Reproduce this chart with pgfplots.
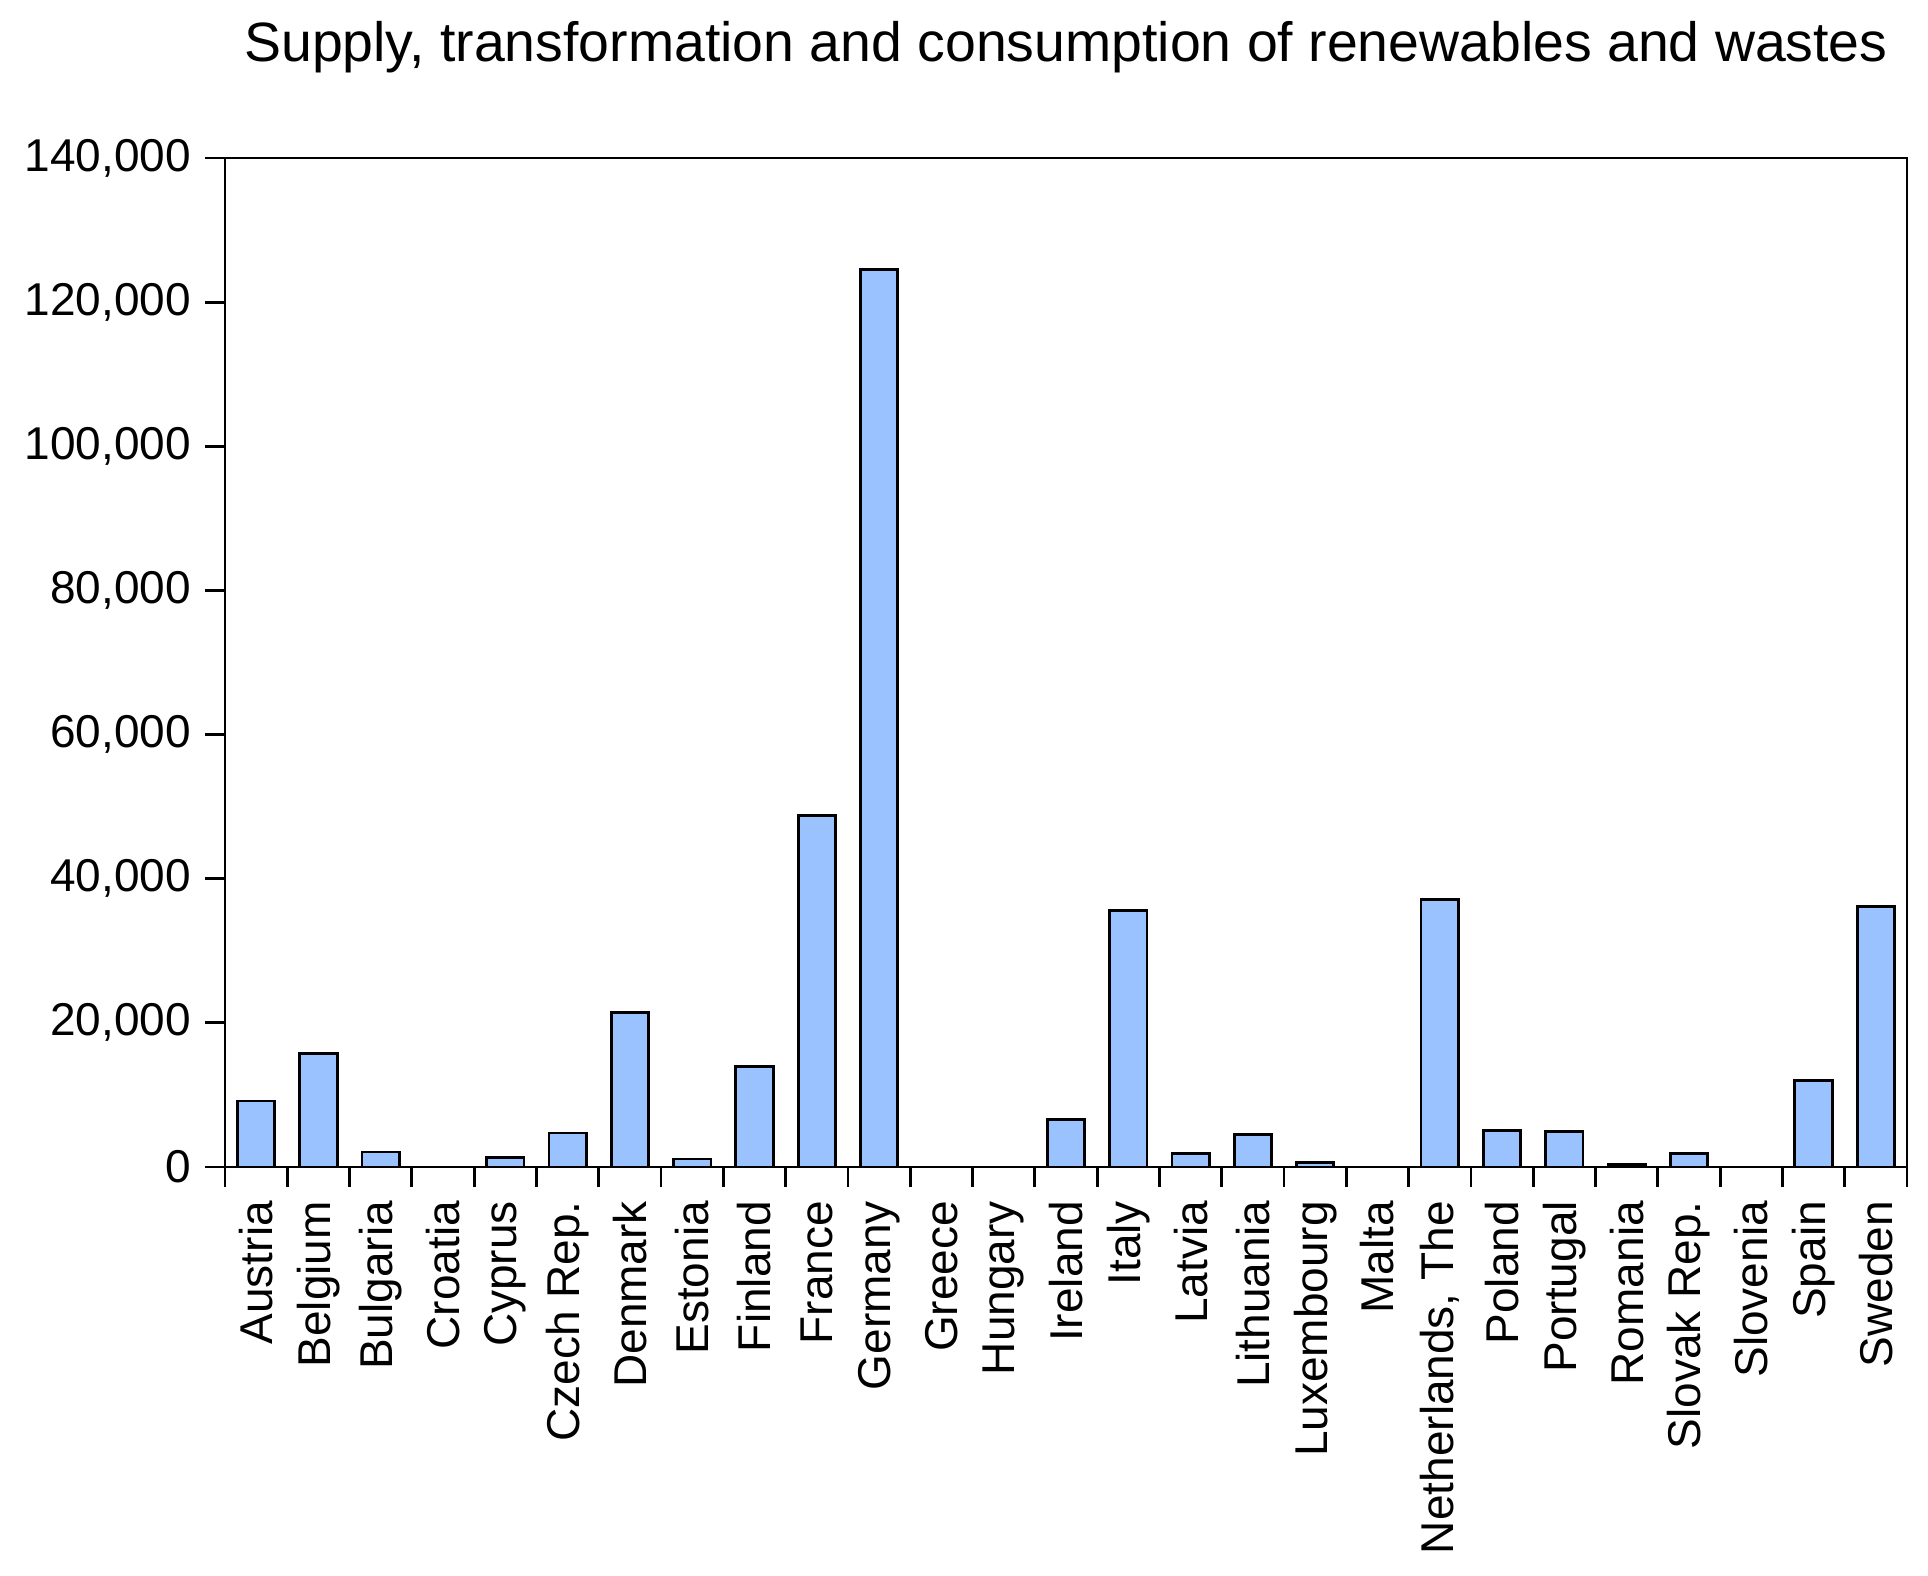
\documentclass[border=0pt]{standalone}
\usepackage{pgfplots}
\pgfplotsset{compat=1.18}
\usepackage{fontspec}
\setmainfont{Liberation Sans}
\definecolor{barblue}{RGB}{153,194,255}
\begin{document}
\begin{tikzpicture}
\begin{axis}[
  scale only axis,
  width=420.5pt, height=252.25pt,
  xmin=0.5, xmax=27.5,
  ymin=0, ymax=140000,
  ytick={0,20000,40000,60000,80000,100000,120000,140000},
  scaled y ticks=false,
  yticklabel={\pgfmathprintnumber[fixed,precision=0,1000 sep={,},assume math mode=true]{\tick}},
  yticklabel style={font=\fontsize{11.5}{13}\selectfont},
  yticklabel shift=0pt,
  tick align=outside,
  major tick length=5pt,
  ytick pos=left,
  xtick pos=bottom,
  x tick label as interval,
  xtick={0.5,1.5,...,27.5},
  xticklabels={Austria,Belgium,Bulgaria,Croatia,Cyprus,Czech Rep.,Denmark,Estonia,Finland,France,Germany,Greece,Hungary,Ireland,Italy,Latvia,Lithuania,Luxembourg,Malta,{Netherlands, The},Poland,Portugal,Romania,Slovak Rep.,Slovenia,Spain,Sweden},
  xticklabel style={rotate=90, anchor=east, font=\fontsize{11.5}{13}\selectfont},
  axis line style={line width=0.7pt},
  every tick/.style={black, line width=0.7pt},
  clip=false,
]
\addplot[ybar, bar width=0.6, fill=barblue, draw=black, line width=0.7pt] coordinates {
(1,9160) (2,15740) (3,2080) (4,0) (5,1300) (6,4720) (7,21460) (8,1110) (9,13970) (10,48810)
(11,124490) (12,0) (13,0) (14,6620) (15,35620) (16,1850) (17,4480) (18,640) (19,0) (20,37110)
(21,5080) (22,4940) (23,320) (24,1850) (25,0) (26,11980) (27,36180)
};
\node[anchor=base, font=\fontsize{13.85}{16}\selectfont] at ([yshift=24pt]rel axis cs:0.5,1) {Supply, transformation and consumption of renewables and wastes};
\path (rel axis cs:0,0) ++(-56.25pt,-102pt) coordinate (bl);
\path (rel axis cs:1,1) ++(5.25pt,39.5pt) coordinate (tr);
\end{axis}
\path (bl) rectangle (tr);
\end{tikzpicture}
\end{document}
